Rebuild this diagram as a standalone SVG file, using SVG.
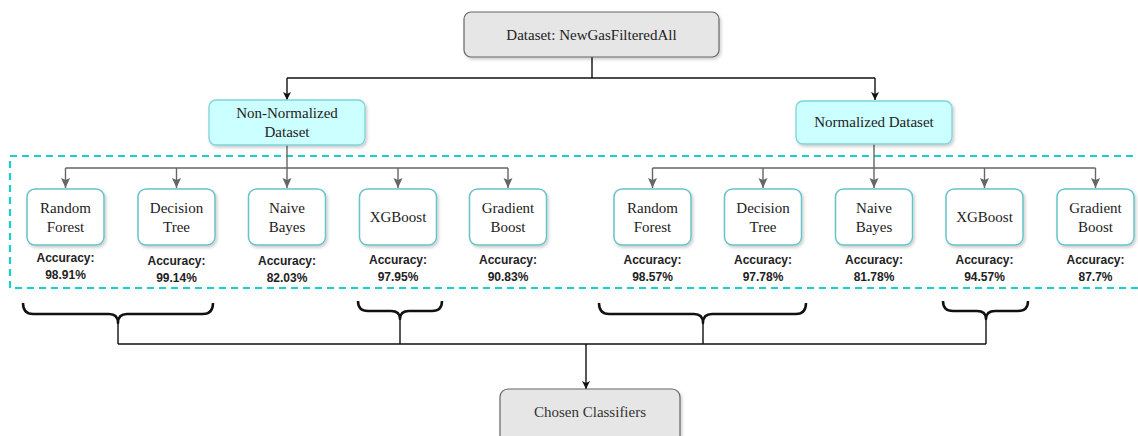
<svg xmlns="http://www.w3.org/2000/svg" width="1138" height="436" viewBox="0 0 1138 436">
<style>
.serif{font-family:"Liberation Serif","Times New Roman",serif;font-size:15px;fill:#222;text-anchor:middle}
.acc{font-family:"Liberation Sans",Arial,sans-serif;font-size:12px;font-weight:bold;fill:#222;text-anchor:middle}
.gray{fill:#e6e6e6;stroke:#666;stroke-width:1.2}
.cyan{fill:#ccffff;stroke:#7fd3d8;stroke-width:1.3}
.clf{fill:#fff;stroke:#66c4c8;stroke-width:1.5}
.blk{fill:none;stroke:#111;stroke-width:1.4}
.gry{fill:none;stroke:#666;stroke-width:1.4}
.brace{fill:none;stroke:#111;stroke-width:2.5;stroke-linejoin:round}
</style>
<defs>
<filter id="sh" x="-10%" y="-10%" width="130%" height="140%">
<feDropShadow dx="1.5" dy="2" stdDeviation="1.5" flood-color="#000" flood-opacity="0.2"/>
</filter>
<marker id="ab" markerWidth="10" markerHeight="10" refX="9" refY="5" orient="auto" markerUnits="userSpaceOnUse">
<path d="M1,1 L9,5 L1,9 L3,5 Z" fill="#111"/>
</marker>
<marker id="ag" markerWidth="12" markerHeight="12" refX="11" refY="6" orient="auto" markerUnits="userSpaceOnUse">
<path d="M1,1.5 L11,6 L1,10.5 L3,6 Z" fill="#666"/>
</marker>
</defs>

<rect x="10" y="156" width="1140" height="132" fill="none" stroke="#1ccfcf" stroke-width="2.2" stroke-dasharray="7,5"/>

<g id="connectors">
<path class="blk" d="M592,57 V78 M287,78 H875"/>
<path class="blk" d="M287,78 V100" marker-end="url(#ab)"/>
<path class="blk" d="M875,78 V100" marker-end="url(#ab)"/>
<path class="gry" d="M287,145 V168 M65.5,168 H508"/>
<path class="gry" d="M65.5,168 V188" marker-end="url(#ag)"/>
<path class="gry" d="M176.5,168 V188" marker-end="url(#ag)"/>
<path class="gry" d="M287,168 V188" marker-end="url(#ag)"/>
<path class="gry" d="M398,168 V188" marker-end="url(#ag)"/>
<path class="gry" d="M508,168 V188" marker-end="url(#ag)"/>
<path class="gry" d="M874,144 V168 M652.5,168 H1095.5"/>
<path class="gry" d="M652.5,168 V188" marker-end="url(#ag)"/>
<path class="gry" d="M763,168 V188" marker-end="url(#ag)"/>
<path class="gry" d="M874,168 V188" marker-end="url(#ag)"/>
<path class="gry" d="M984.5,168 V188" marker-end="url(#ag)"/>
<path class="gry" d="M1095.5,168 V188" marker-end="url(#ag)"/>
<path class="brace" d="M23,303 Q23,314 33,314 L109,314 Q118,314 118,323 Q118,314 127,314 L203,314 Q213,314 213,303"/>
<path class="brace" d="M358,301 Q358,311 368,311 L391,311 Q400,311 400,319 Q400,311 409,311 L432,311 Q442,311 442,301"/>
<path class="brace" d="M599,303 Q599,314 609,314 L694,314 Q703,314 703,323 Q703,314 712,314 L796,314 Q806,314 806,303"/>
<path class="brace" d="M943,301 Q943,311 953,311 L977,311 Q986,311 986,319 Q986,311 995,311 L1018,311 Q1028,311 1028,301"/>
<path class="blk" d="M118,322 V344 M400,318 V344 M703,322 V344 M986,318 V344 M118,344 H986"/>
<path class="blk" d="M586,344 V389" marker-end="url(#ab)"/>
</g>

<g id="dataset">
<rect class="gray" x="464" y="12" width="255" height="45" rx="7" filter="url(#sh)"/>
<text class="serif" x="591.5" y="40">Dataset: NewGasFilteredAll</text>
</g>
<g id="non-normalized">
<rect class="cyan" x="209" y="100" width="156" height="45" rx="7" filter="url(#sh)"/>
<text class="serif" x="287" y="118">Non-Normalized</text>
<text class="serif" x="287" y="137">Dataset</text>
</g>
<g id="normalized">
<rect class="cyan" x="796" y="101" width="156" height="43" rx="7" filter="url(#sh)"/>
<text class="serif" x="874" y="127">Normalized Dataset</text>
</g>

<g id="l-rf"><rect class="clf" x="27" y="189" width="77" height="56" rx="8" filter="url(#sh)"/>
<text class="serif" x="65.5" y="213">Random</text><text class="serif" x="65.5" y="232">Forest</text>
<text class="acc" x="65.5" y="262">Accuracy:</text><text class="acc" x="65.5" y="279">98.91%</text></g>
<g id="l-dt"><rect class="clf" x="138" y="189" width="77" height="56" rx="8" filter="url(#sh)"/>
<text class="serif" x="176.5" y="213">Decision</text><text class="serif" x="176.5" y="232">Tree</text>
<text class="acc" x="176.5" y="265">Accuracy:</text><text class="acc" x="176.5" y="282">99.14%</text></g>
<g id="l-nb"><rect class="clf" x="248.5" y="189" width="77" height="56" rx="8" filter="url(#sh)"/>
<text class="serif" x="287" y="213">Naive</text><text class="serif" x="287" y="232">Bayes</text>
<text class="acc" x="287" y="265">Accuracy:</text><text class="acc" x="287" y="282">82.03%</text></g>
<g id="l-xgb"><rect class="clf" x="359.5" y="189" width="77" height="56" rx="8" filter="url(#sh)"/>
<text class="serif" x="398" y="222">XGBoost</text>
<text class="acc" x="398" y="264">Accuracy:</text><text class="acc" x="398" y="281">97.95%</text></g>
<g id="l-gb"><rect class="clf" x="469.5" y="189" width="77" height="56" rx="8" filter="url(#sh)"/>
<text class="serif" x="508" y="213">Gradient</text><text class="serif" x="508" y="232">Boost</text>
<text class="acc" x="508" y="264">Accuracy:</text><text class="acc" x="508" y="281">90.83%</text></g>

<g id="r-rf"><rect class="clf" x="614" y="189" width="77" height="56" rx="8" filter="url(#sh)"/>
<text class="serif" x="652.5" y="213">Random</text><text class="serif" x="652.5" y="232">Forest</text>
<text class="acc" x="652.5" y="264">Accuracy:</text><text class="acc" x="652.5" y="281">98.57%</text></g>
<g id="r-dt"><rect class="clf" x="724.5" y="189" width="77" height="56" rx="8" filter="url(#sh)"/>
<text class="serif" x="763" y="213">Decision</text><text class="serif" x="763" y="232">Tree</text>
<text class="acc" x="763" y="264">Accuracy:</text><text class="acc" x="763" y="281">97.78%</text></g>
<g id="r-nb"><rect class="clf" x="835.5" y="189" width="77" height="56" rx="8" filter="url(#sh)"/>
<text class="serif" x="874" y="213">Naive</text><text class="serif" x="874" y="232">Bayes</text>
<text class="acc" x="874" y="264">Accuracy:</text><text class="acc" x="874" y="281">81.78%</text></g>
<g id="r-xgb"><rect class="clf" x="946" y="189" width="77" height="56" rx="8" filter="url(#sh)"/>
<text class="serif" x="984.5" y="222">XGBoost</text>
<text class="acc" x="984.5" y="264">Accuracy:</text><text class="acc" x="984.5" y="281">94.57%</text></g>
<g id="r-gb"><rect class="clf" x="1057" y="189" width="77" height="56" rx="8" filter="url(#sh)"/>
<text class="serif" x="1095.5" y="213">Gradient</text><text class="serif" x="1095.5" y="232">Boost</text>
<text class="acc" x="1095.5" y="264">Accuracy:</text><text class="acc" x="1095.5" y="281">87.7%</text></g>

<g id="chosen">
<rect class="gray" x="500" y="389" width="180" height="60" rx="8" filter="url(#sh)"/>
<text class="serif" x="590" y="417" style="fill:#333">Chosen Classifiers</text>
</g>
</svg>
